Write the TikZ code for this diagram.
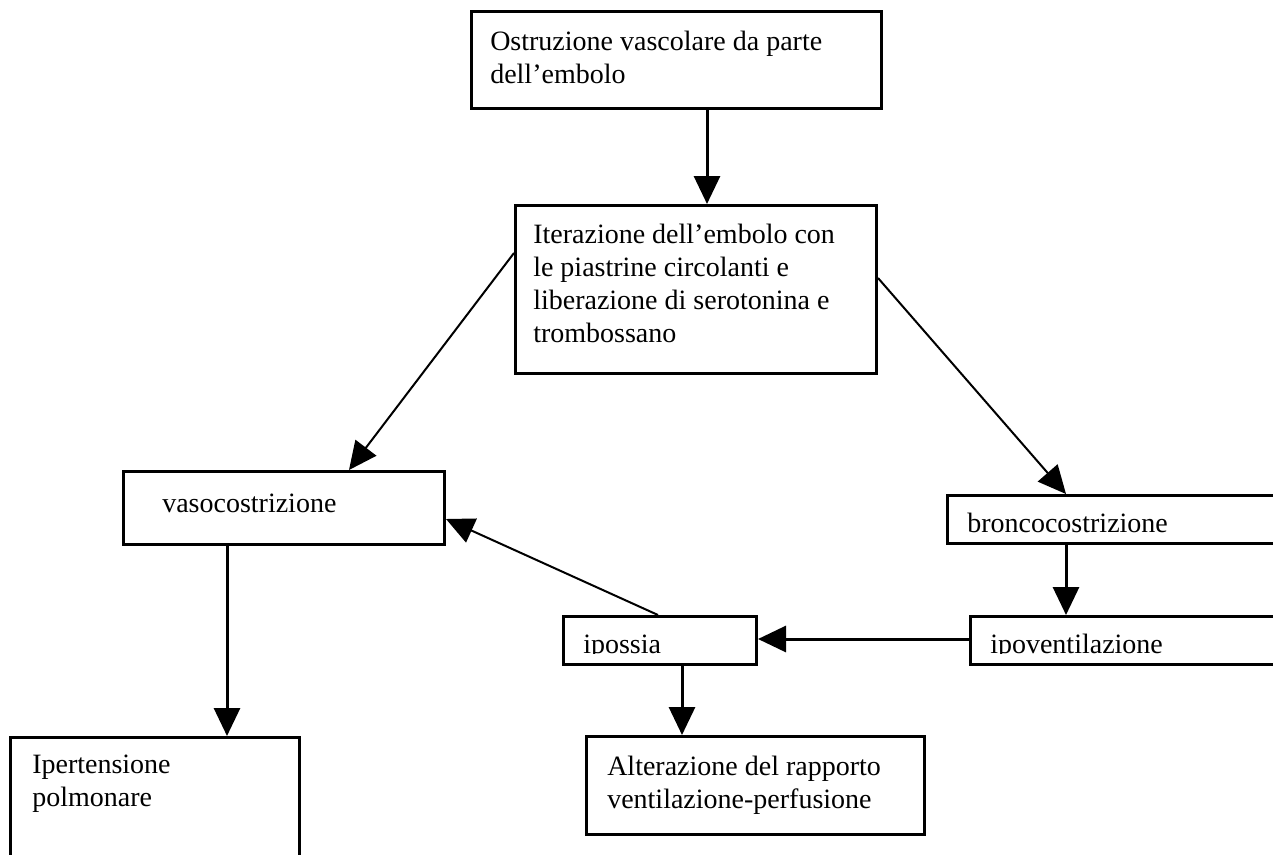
\documentclass[tikz,border=0pt]{standalone}
\usepackage{fontspec}
\setmainfont{Liberation Serif}
\usetikzlibrary{arrows.meta}

\tikzset{
  box/.style={draw, line width=2.25pt, rectangle, inner sep=0pt, anchor=north west},
  txt/.style={anchor=base west, inner sep=0pt, font=\fontsize{21}{24.75}\selectfont},
  arr/.style={line width=2.25pt, -{Triangle[length=21pt, width=19.5pt]}},
  slant/.style={line width=1.5pt, -{Triangle[length=21pt, width=19.5pt]}}
}

\begin{document}
\begin{tikzpicture}[x=0.75pt, y=-0.75pt]
  \useasboundingbox (0,0) rectangle (1273,854);
  \clip (0,0) rectangle (1273,854);
  \fill[white] (0,0) rectangle (1273,854);

  % boxes (some run past the page edge and are cut by the clip)
  \node[box, minimum width=410*0.75pt, minimum height=97*0.75pt] (ostr) at (470,10) {};
  \node[box, minimum width=361*0.75pt, minimum height=168*0.75pt] (iter) at (514,204) {};
  \node[box, minimum width=321*0.75pt, minimum height=73*0.75pt] (vaso) at (122,470) {};
  \node[box, minimum width=360*0.75pt, minimum height=48*0.75pt] (bronco) at (946,494) {};
  \node[box, minimum width=340*0.75pt, minimum height=48*0.75pt] (ipov) at (969,615) {};
  \node[box, minimum width=193*0.75pt, minimum height=48*0.75pt] (ipos) at (562,615) {};
  \node[box, minimum width=289*0.75pt, minimum height=160*0.75pt] (iper) at (9,736) {};
  \node[box, minimum width=338*0.75pt, minimum height=98*0.75pt] (alt) at (585,735) {};

  % labels
  \node[txt] (t-ostr) at (490,50) {\parbox[t]{14cm}{Ostruzione vascolare da parte\\dell’embolo}};
  \node[txt] (t-iter) at (533,243) {\parbox[t]{14cm}{Iterazione dell’embolo con\\le piastrine circolanti e\\liberazione di serotonina e\\trombossano}};
  \node[txt] (t-vaso) at (162,512) {vasocostrizione};
  \node[txt] (t-bronco) at (967,532) {broncocostrizione};
  \begin{scope}
    % these two labels sit low in their boxes and lose their descenders
    \clip (540,600) rectangle (1273,653);
    \node[txt] (t-ipov) at (990,653) {ipoventilazione};
    \node[txt] (t-ipos) at (583,653) {ipossia};
  \end{scope}
  \node[txt] (t-iper) at (32,773) {\parbox[t]{14cm}{Ipertensione\\polmonare}};
  \node[txt] (t-alt) at (607,775) {\parbox[t]{14cm}{Alterazione del rapporto\\ventilazione-perfusione}};

  % connectors
  \draw[arr] (ostr.south -| 707,0) -- (iter.north -| 707,0);
  \draw[slant] (iter.west |- 0,253) -- (vaso.north -| 349,0);
  \draw[slant] (iter.east |- 0,278) -- (bronco.north -| 1066,0);
  \draw[arr] (bronco.south -| 1066,0) -- (ipov.north -| 1066,0);
  \draw[arr] (ipov.west |- 0,639) -- (ipos.east |- 0,639);
  \draw[slant] (ipos.north -| 658,0) -- (vaso.east |- 0,519);
  \draw[arr] (ipos.south -| 682,0) -- (alt.north -| 682,0);
  \draw[arr] (vaso.south -| 227,0) -- (iper.north -| 227,0);
\end{tikzpicture}
\end{document}
